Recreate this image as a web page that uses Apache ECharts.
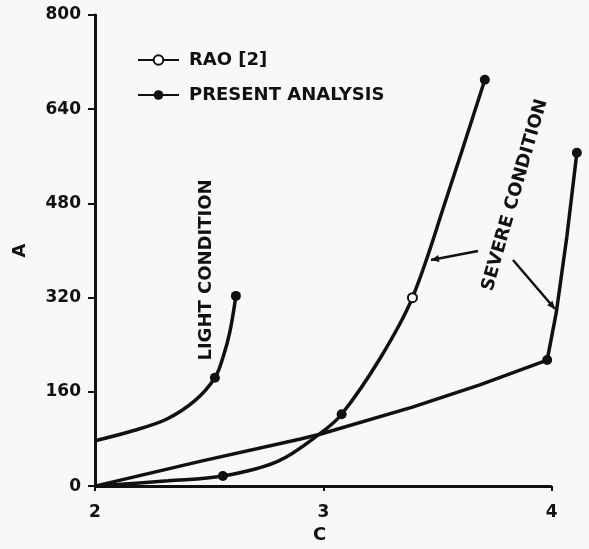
<!DOCTYPE html>
<html>
<head>
<meta charset="utf-8">
<script src="https://cdn.jsdelivr.net/npm/echarts@6/dist/echarts.min.js"></script>
<style>
html, body { margin: 0; padding: 0; background: #f8f8f6; }
#chart { width: 589px; height: 549px; }
</style>
</head>
<body>
<div id="chart"></div>
<script>
// values (C on x, A on y)
const cTicks = [2, 3, 4];
const aTicks = [0, 160, 320, 480, 640, 800];

const lightC = [2.0, 2.166, 2.315, 2.44, 2.525, 2.56, 2.59, 2.617];
const lightA = [77, 94, 114, 146, 184, 218, 261, 323];
const lightMarks = [2.525, 2.617];

const severe1C = [2.0, 2.32, 2.56, 2.8, 2.985, 3.08, 3.25, 3.39, 3.54, 3.707];
const severe1A = [0, 9, 17, 42, 89, 122, 218, 320, 490, 690];
const severe1Marks = [2.56, 3.08, 3.707];

const severe2C = [2.0, 2.46, 2.9, 2.985, 3.39, 3.685, 3.98, 4.02, 4.066, 4.11];
const severe2A = [0, 42, 80, 88, 134, 172, 214, 295, 423, 566];
const severe2Marks = [3.98, 4.11];

const raoC = [3.39];
const raoA = [320];

function build(cs, as, marks) {
    return cs.map((c, i) => ({
        value: [c, as[i]],
        symbol: marks.includes(c) ? 'circle' : 'none'
    }));
}

const ink = '#111';
const font = '"DejaVu Sans", sans-serif';
const lineStyle = { color: ink, width: 3.5 };

const chart = echarts.init(document.getElementById('chart'));

// leader line with a small arrow head at (x2, y2)
function arrow(x1, y1, x2, y2) {
    const ang = Math.atan2(y2 - y1, x2 - x1);
    const L = 8, W = 3.5;
    const bx = x2 - L * Math.cos(ang), by = y2 - L * Math.sin(ang);
    const px = -Math.sin(ang) * W, py = Math.cos(ang) * W;
    return [
        { type: 'line', shape: { x1: x1, y1: y1, x2: x2, y2: y2 }, style: { stroke: ink, lineWidth: 2.5 } },
        { type: 'polygon', shape: { points: [[x2, y2], [bx + px, by + py], [bx - px, by - py]] }, style: { fill: ink } }
    ];
}

chart.setOption({
    backgroundColor: '#f8f8f6',
    animation: false,
    grid: { left: 95, right: 3, top: 15, bottom: 56 },
    legend: {
        orient: 'vertical',
        left: 132,
        top: 46,
        itemWidth: 41,
        itemHeight: 12,
        itemGap: 17,
        data: ['RAO [2]', 'PRESENT ANALYSIS'],
        textStyle: { color: ink, fontSize: 18, fontWeight: 'bold', fontFamily: font, lineHeight: 18, padding: [0, 0, 0, 5] }
    },
    xAxis: {
        type: 'value',
        min: 2,
        max: 4.15,
        interval: 1,
        name: 'C',
        nameLocation: 'middle',
        nameGap: 36,
        nameTextStyle: { color: ink, fontSize: 18, fontWeight: 'bold', fontFamily: font, padding: [0, 42, 0, 0] },
        axisLine: { show: false },
        axisTick: { customValues: cTicks, length: 5, lineStyle: { color: ink, width: 2 } },
        axisLabel: { customValues: cTicks, margin: 18, color: ink, fontSize: 17, fontWeight: 'bold', fontFamily: font },
        splitLine: { show: false }
    },
    yAxis: {
        type: 'value',
        min: 0,
        max: 800,
        interval: 160,
        name: 'A',
        nameLocation: 'middle',
        nameGap: 66,
        nameTextStyle: { color: ink, fontSize: 18, fontWeight: 'bold', fontFamily: font },
        axisLine: { show: true, lineStyle: { color: ink, width: 3 } },
        axisTick: { show: true, length: 7, lineStyle: { color: ink, width: 2 } },
        axisLabel: { margin: 14, color: ink, fontSize: 17, fontWeight: 'bold', fontFamily: font },
        splitLine: { show: false }
    },
    series: [
        {
            name: 'RAO [2]',
            type: 'line',
            symbol: 'emptyCircle',
            symbolSize: 9,
            clip: false,
            itemStyle: { color: ink, borderColor: ink, borderWidth: 2.5 },
            lineStyle: lineStyle,
            z: 5,
            data: raoC.map((c, i) => [c, raoA[i]]),
            markLine: {
                silent: true,
                symbol: ['none', 'none'],
                label: { show: false },
                lineStyle: { color: ink, width: 3, type: 'solid' },
                data: [[{ coord: [cTicks[0], 0] }, { coord: [cTicks[cTicks.length - 1], 0] }]]
            }
        },
        {
            name: 'PRESENT ANALYSIS',
            type: 'line',
            symbol: 'circle',
            symbolSize: 10,
            smooth: 0.35,
            clip: false,
            itemStyle: { color: ink },
            lineStyle: lineStyle,
            data: build(lightC, lightA, lightMarks)
        },
        {
            name: 'PRESENT ANALYSIS',
            type: 'line',
            symbol: 'circle',
            symbolSize: 10,
            smooth: 0.35,
            clip: false,
            itemStyle: { color: ink },
            lineStyle: lineStyle,
            data: build(severe1C, severe1A, severe1Marks)
        },
        {
            name: 'PRESENT ANALYSIS',
            type: 'line',
            symbol: 'circle',
            symbolSize: 10,
            smooth: false,
            clip: false,
            itemStyle: { color: ink },
            lineStyle: lineStyle,
            data: build(severe2C, severe2A, severe2Marks)
        }
    ],
    graphic: [
        {
            type: 'text', x: 206, y: 270, rotation: Math.PI / 2,
            style: { text: 'LIGHT CONDITION', fill: ink, fontSize: 18, fontWeight: 'bold', fontFamily: font, align: 'center', verticalAlign: 'middle' }
        },
        {
            type: 'text', x: 515, y: 195, rotation: 74 * Math.PI / 180,
            style: { text: 'SEVERE CONDITION', fill: ink, fontSize: 18, fontWeight: 'bold', fontFamily: font, align: 'center', verticalAlign: 'middle' }
        }
    ].concat(arrow(478, 251, 431, 260), arrow(513, 260, 555, 309))
});
</script>
</body>
</html>
